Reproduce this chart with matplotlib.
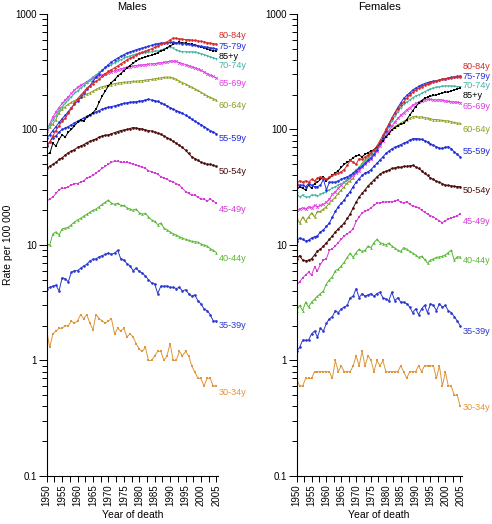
import matplotlib
matplotlib.use("Agg")
import matplotlib.pyplot as plt
import numpy as np
from matplotlib.ticker import FixedLocator, LogLocator, NullFormatter

plt.rcParams["font.family"] = ["Liberation Sans", "DejaVu Sans"]

years = list(range(1950, 2006))

age_groups = ["80-84y", "75-79y", "85+y", "70-74y", "65-69y", "60-64y",
              "55-59y", "50-54y", "45-49y", "40-44y", "35-39y", "30-34y"]

# ---- Males, rate per 100 000 ----
m_80_84 = [73, 78, 88, 98, 108, 118, 125, 138, 152, 168,
           185, 198, 212, 228, 240, 250, 262, 272, 290, 305,
           318, 330, 342, 355, 370, 385, 400, 415, 425, 440,
           455, 465, 475, 488, 500, 515, 530, 545, 560, 575,
           595, 620, 615, 610, 605, 600, 600, 595, 590, 585,
           580, 575, 565, 560, 555, 550]
m_75_79 = [85, 90, 98, 106, 115, 124, 133, 143, 155, 165,
           176, 190, 205, 222, 240, 262, 285, 305, 325, 345,
           365, 385, 400, 415, 430, 445, 460, 470, 480, 490,
           500, 508, 515, 525, 535, 545, 555, 560, 562, 565,
           568, 570, 565, 560, 555, 550, 545, 540, 535, 530,
           525, 520, 515, 510, 505, 500]
m_85p = [62, 62, 76, 72, 82, 90, 86, 95, 100, 108,
         115, 121, 118, 128, 133, 140, 150, 172, 195, 215,
         238, 255, 270, 290, 305, 322, 340, 358, 375, 392,
         405, 415, 425, 432, 440, 450, 462, 478, 490, 510,
         530, 545, 560, 570, 565, 560, 552, 545, 540, 530,
         520, 510, 500, 490, 482, 478]
m_70_74 = [100, 110, 120, 132, 145, 157, 168, 180, 192, 205,
           215, 228, 240, 255, 270, 285, 298, 312, 325, 340,
           352, 365, 378, 390, 402, 412, 424, 432, 440, 448,
           452, 458, 462, 466, 470, 474, 478, 488, 498, 508,
           518, 505, 488, 475, 470, 472, 468, 470, 465, 460,
           452, 445, 435, 425, 415, 408]
m_65_69 = [100, 112, 128, 142, 155, 168, 180, 192, 205, 220,
           232, 242, 250, 260, 270, 278, 285, 292, 298, 303,
           308, 315, 322, 328, 335, 340, 345, 350, 355, 358,
           360, 362, 365, 368, 370, 372, 375, 378, 382, 386,
           390, 392, 388, 380, 372, 365, 358, 350, 342, 335,
           325, 315, 305, 295, 288, 280]
m_60_64 = [97, 105, 112, 122, 140, 150, 158, 165, 172, 178,
           183, 190, 196, 203, 208, 215, 222, 230, 235, 238,
           242, 245, 250, 252, 255, 257, 258, 260, 262, 262,
           264, 265, 268, 270, 272, 275, 278, 280, 283, 285,
           284, 280, 272, 262, 255, 248, 240, 233, 225, 218,
           210, 203, 196, 190, 185, 180]
m_55_59 = [72, 78, 85, 88, 95, 100, 103, 106, 110, 114,
           118, 122, 126, 130, 134, 138, 142, 146, 150, 153,
           156, 158, 160, 163, 166, 168, 170, 172, 173, 174,
           176, 177, 180, 183, 180, 178, 175, 170, 165, 160,
           155, 150, 146, 142, 138, 133, 128, 123, 118, 114,
           110, 106, 102, 98, 95, 92]
m_50_54 = [46, 48, 50, 52, 55, 57, 60, 63, 65, 67,
           70, 72, 74, 77, 79, 81, 83, 86, 88, 89,
           90, 92, 94, 96, 98, 99, 100, 102, 104, 103,
           102, 101, 99, 98, 97, 95, 93, 91, 88, 85,
           82, 79, 76, 73, 70, 66, 62, 58, 56, 54,
           52, 51, 50, 50, 49, 48]
m_45_49 = [24, 25, 26, 28, 30, 31, 31, 32, 33, 34,
           34, 35, 36, 38, 39, 40, 42, 44, 46, 48,
           50, 52, 53, 53, 52, 52, 52, 51, 50, 49,
           48, 47, 46, 44, 43, 42, 41, 39, 38, 37,
           36, 35, 34, 33, 31, 29, 28, 27, 27, 26,
           25, 25, 24, 25, 24, 23]
m_40_44 = [10.2, 10.0, 12.5, 13, 12.2, 13.8, 14, 14.2, 15, 15.8,
           16.5, 17, 17.8, 18.5, 19.2, 20, 20.5, 21.5, 22.5, 23.5,
           24.5, 23, 22.5, 23, 22, 22, 21, 20.5, 20, 20.5,
           19, 18.5, 18.8, 17.5, 16.5, 16, 15, 15.5, 14, 13.5,
           13, 12.5, 12.2, 11.8, 11.5, 11.2, 11, 10.8, 10.7, 10.6,
           10.2, 10, 9.8, 9.3, 9.0, 8.6]
m_35_39 = [4.2, 4.3, 4.4, 4.5, 4.0, 5.2, 5.1, 4.8, 5.8, 6.0,
           6.0, 6.3, 6.6, 6.8, 7.3, 7.5, 7.6, 7.9, 8.1, 8.3,
           8.5, 8.3, 8.5, 9.0, 7.6, 7.4, 6.9, 6.6, 6.0, 6.3,
           5.9, 5.7, 5.4, 5.0, 4.7, 4.6, 3.8, 4.4, 4.4, 4.4,
           4.3, 4.3, 4.2, 4.3, 4.0, 4.1, 3.8, 3.6, 3.7, 3.3,
           3.1, 2.8, 2.7, 2.5, 2.2, 2.2]
m_30_34 = [1.8, 1.3, 1.7, 1.8, 1.9, 1.9, 2.0, 2.0, 2.2, 2.1,
           2.2, 2.5, 2.3, 2.5, 2.1, 1.85, 2.5, 2.3, 2.2, 2.1,
           2.2, 2.3, 1.7, 1.9, 1.8, 1.9, 1.6, 1.7, 1.6, 1.4,
           1.25, 1.2, 1.3, 1.0, 1.0, 1.1, 1.2, 1.2, 1.0, 1.1,
           1.4, 1.0, 1.0, 1.2, 1.1, 1.2, 1.1, 0.9, 0.8, 0.7,
           0.7, 0.6, 0.7, 0.7, 0.6, 0.6]

# ---- Females, rate per 100 000 ----
f_80_84 = [34, 36, 35, 36, 35, 37, 36, 38, 39, 38,
           37, 39, 40, 41, 42, 43, 45, 49, 54, 52,
           50, 56, 55, 58, 60, 63, 67, 72, 80, 89,
           100, 112, 125, 138, 150, 163, 174, 186, 198, 210,
           220, 228, 235, 242, 248, 254, 260, 264, 268, 272,
           275, 277, 280, 283, 285, 287]
f_75_79 = [33, 33, 33, 32, 34, 33, 32, 32, 33, 37,
           30, 35, 35, 35, 36, 37, 38, 39, 40, 42,
           44, 46, 48, 51, 54, 57, 61, 67, 76, 85,
           97, 110, 125, 140, 155, 170, 186, 197, 208, 220,
           228, 236, 244, 250, 255, 259, 262, 265, 268, 272,
           275, 280, 283, 285, 288, 290]
f_85p = [30, 32, 31, 30, 33, 31, 34, 35, 37, 39,
         36, 38, 40, 42, 44, 47, 50, 52, 54, 57,
         59, 60, 58, 61, 63, 65, 67, 70, 75, 80,
         86, 92, 99, 104, 108, 111, 113, 122, 133, 145,
         158, 168, 178, 186, 190, 194, 197, 200, 204, 207,
         210, 212, 216, 220, 225, 228]
f_70_74 = [28, 26, 27, 26, 26, 27, 27, 26.5, 27.5, 28,
           29, 30, 31, 32, 33, 34, 35, 37, 39, 42,
           45, 47, 50, 53, 56, 60, 65, 70, 77, 84,
           94, 105, 118, 130, 142, 155, 165, 172, 180, 188,
           195, 200, 205, 212, 218, 223, 228, 231, 234, 236,
           238, 238, 237, 236, 235, 235]
f_65_69 = [20, 20.5, 21, 20.5, 21.5, 21, 22, 21.5, 22, 22.5,
           23.5, 25, 27.5, 29, 31, 33, 35, 36.5, 38, 40,
           42, 44, 47, 50, 53, 56, 60, 65, 72, 80,
           88, 97, 107, 116, 125, 133, 140, 148, 155, 162,
           168, 173, 178, 181, 183, 182, 181, 180, 181, 179,
           177, 175, 174, 173, 172, 171]
f_60_64 = [17, 15.5, 17.5, 16, 17.5, 19, 17.5, 19.5, 19.5, 20.5,
           21.5, 23, 24.5, 26, 28, 30, 32, 34.5, 36, 38,
           43, 47, 51, 55, 59, 63, 67, 71, 76, 82,
           88, 94, 100, 106, 110, 114, 118, 121, 125, 129,
           130, 128, 129, 127, 126, 124, 122, 122, 121, 120,
           119, 119, 117, 115, 114, 113]
f_55_59 = [10.8, 11.5, 11.2, 10.8, 11.0, 11.5, 11.8, 12.0, 13.0, 13.5,
           14.5, 15.5, 17.5, 19.5, 21.5, 23.0, 24.5, 27.0, 29.0, 32.0,
           35.0, 37.5, 40.0, 42.0, 43.0, 45.0, 48.0, 51.0, 54.5, 58.0,
           62.0, 65.0, 68.0, 70.0, 72.0, 74.0, 76.0, 78.0, 81.0, 83.0,
           83.5, 83.0, 82.0, 80.0, 78.0, 75.0, 73.0, 71.0, 69.0, 68.5,
           70.0, 71.0, 68.0, 64.0, 61.0, 58.0]
f_50_54 = [7.6, 8.1, 7.4, 7.3, 7.4, 7.6, 8.2, 8.9, 9.2, 9.8,
           10.4, 11.2, 12.0, 13.0, 13.8, 14.6, 15.5, 17.0, 18.5, 21.0,
           23.5, 26.0, 28.0, 30.0, 32.5, 34.5, 36.6, 39.0, 41.0, 42.5,
           43.5, 44.6, 46.0, 46.5, 47.5, 47.0, 48.0, 48.0, 48.5, 49.0,
           47.5, 46.0, 44.0, 41.6, 40.0, 38.0, 37.0, 35.5, 35.0, 34.0,
           33.0, 32.8, 32.5, 32.2, 32.0, 32.0]
f_45_49 = [4.5, 4.8, 5.2, 5.5, 5.8, 5.5, 6.4, 6.0, 6.8, 7.4,
           7.6, 9.0, 9.3, 9.8, 10.5, 11.2, 12.0, 12.5, 13.0, 13.8,
           16.0, 17.5, 19.0, 19.5, 20.0, 21.0, 22.0, 23.0, 23.2, 23.5,
           23.5, 23.8, 23.6, 24.0, 24.5, 23.5, 23.0, 23.8, 22.5, 21.8,
           21.5, 21.0, 20.0, 19.2, 18.5, 18.0, 17.5, 16.8, 16.2, 15.6,
           16.2, 16.8, 17.2, 17.5, 18.0, 18.5]
f_40_44 = [2.7, 3.0, 2.7, 3.2, 2.9, 3.2, 3.4, 3.6, 3.8, 4.0,
           4.6, 5.0, 5.3, 6.0, 6.2, 6.6, 7.1, 7.8, 8.5, 7.8,
           8.6, 9.2, 8.8, 9.0, 9.8, 9.5, 10.5, 11.2, 10.5, 10.3,
           10.0, 10.4, 9.8, 9.4, 9.0, 8.8, 9.5, 9.2, 8.8, 8.5,
           8.2, 7.8, 8.0, 7.5, 7.0, 7.4, 7.6, 7.8, 7.9, 8.0,
           8.2, 8.6, 9.0, 7.4, 7.9, 7.9]
f_35_39 = [1.2, 1.3, 1.5, 1.5, 1.5, 1.7, 1.8, 1.6, 1.9, 1.8,
           2.1, 2.3, 2.4, 2.7, 2.6, 2.8, 2.9, 3.0, 3.5, 3.6,
           4.2, 3.5, 3.8, 3.6, 3.7, 3.8, 3.6, 3.8, 3.9, 3.5,
           3.4, 3.3, 3.9, 3.3, 3.5, 3.2, 3.2, 3.1, 2.9, 2.6,
           2.8, 2.5, 2.8, 3.0, 2.6, 3.1, 3.0, 2.7, 3.1, 2.9,
           3.0, 2.7, 2.6, 2.4, 2.2, 2.0]
f_30_34 = [0.7, 0.6, 0.6, 0.7, 0.7, 0.7, 0.8, 0.8, 0.8, 0.8,
           0.8, 0.8, 0.7, 1.0, 0.8, 0.9, 0.8, 0.8, 0.8, 0.9,
           1.1, 0.9, 1.2, 0.9, 1.1, 1.0, 0.8, 1.0, 0.9, 1.0,
           0.8, 0.8, 0.8, 0.8, 0.8, 0.9, 0.8, 0.7, 0.8, 0.8,
           0.8, 0.9, 0.8, 0.9, 0.9, 0.9, 0.9, 0.7, 0.9, 0.6,
           0.8, 0.6, 0.6, 0.5, 0.5, 0.4]

males = dict(zip(age_groups, [m_80_84, m_75_79, m_85p, m_70_74, m_65_69, m_60_64,
                              m_55_59, m_50_54, m_45_49, m_40_44, m_35_39, m_30_34]))
females = dict(zip(age_groups, [f_80_84, f_75_79, f_85p, f_70_74, f_65_69, f_60_64,
                                f_55_59, f_50_54, f_45_49, f_40_44, f_35_39, f_30_34]))

# where the end labels sit (nudged apart so they don't collide)
male_label_y = dict(zip(age_groups, [655, 525, 428, 355, 248, 160, 83, 43, 20.1, 7.6, 2.0, 0.53]))
female_label_y = dict(zip(age_groups, [350, 288, 198, 240, 158, 100, 65, 29.5, 15.9, 7.4, 1.8, 0.39]))

colors = {
    "80-84y": "#d42b2b", "75-79y": "#2633dc", "85+y": "#000000", "70-74y": "#46b3a3",
    "65-69y": "#e23de6", "60-64y": "#8c9e1e", "55-59y": "#1f2bd6", "50-54y": "#4b0a0a",
    "45-49y": "#d638d6", "40-44y": "#58b834", "35-39y": "#2b38cc", "30-34y": "#e0963a",
}
markers = {
    "80-84y": "o", "75-79y": "o", "85+y": "s", "70-74y": "v", "65-69y": "x", "60-64y": "^",
    "55-59y": "o", "50-54y": "o", "45-49y": "s", "40-44y": "^", "35-39y": "o", "30-34y": "s",
}


def draw_panel(ax, series, label_y, title):
    for name in age_groups[::-1]:
        ax.plot(years, series[name], color=colors[name], marker=markers[name],
                ms=1.9, mew=0.6 if markers[name] == "x" else 0, lw=0.7)
        ax.text(1.004, label_y[name], name, color=colors[name], fontsize=6.6,
                ha="left", va="center", transform=ax.get_yaxis_transform(), clip_on=False)
    ax.set_yscale("log")
    ax.set_ylim(0.1, 1000)
    ax.set_xlim(1950, 2005.5)
    ax.yaxis.set_major_locator(FixedLocator([0.1, 1, 10, 100, 1000]))
    ax.set_yticklabels(["0.1", "1", "10", "100", "1000"])
    ax.yaxis.set_minor_locator(LogLocator(base=10, subs=np.arange(2, 10)))
    ax.yaxis.set_minor_formatter(NullFormatter())
    ax.xaxis.set_major_locator(FixedLocator(list(range(1950, 2006, 5))))
    ax.xaxis.set_minor_locator(FixedLocator(list(np.arange(1952.5, 2005, 5))))
    for lab in ax.get_xticklabels():
        lab.set_rotation(90)
    ax.tick_params(axis="x", which="both", direction="out", length=4, width=0.7, labelsize=7, pad=2)
    ax.tick_params(axis="y", which="major", direction="out", length=6, width=0.7, labelsize=7, pad=1)
    ax.tick_params(axis="y", which="minor", direction="out", length=3.5, width=0.7)
    for side in ["top", "right"]:
        ax.spines[side].set_visible(False)
    for side in ["left", "bottom"]:
        ax.spines[side].set_linewidth(0.8)
    ax.set_title(title, fontsize=8, pad=3)
    ax.set_xlabel("Year of death", fontsize=7.5, labelpad=3)


fig = plt.figure(figsize=(4.92, 5.24), dpi=100)
ax_m = fig.add_axes([0.0949, 0.0916, 0.348, 0.8817])
ax_f = fig.add_axes([0.603, 0.0916, 0.3354, 0.8817])

draw_panel(ax_m, males, male_label_y, "Males")
draw_panel(ax_f, females, female_label_y, "Females")
ax_m.set_ylabel("Rate per 100 000", fontsize=7.5, labelpad=2)

fig.savefig("out.png", dpi=100)
